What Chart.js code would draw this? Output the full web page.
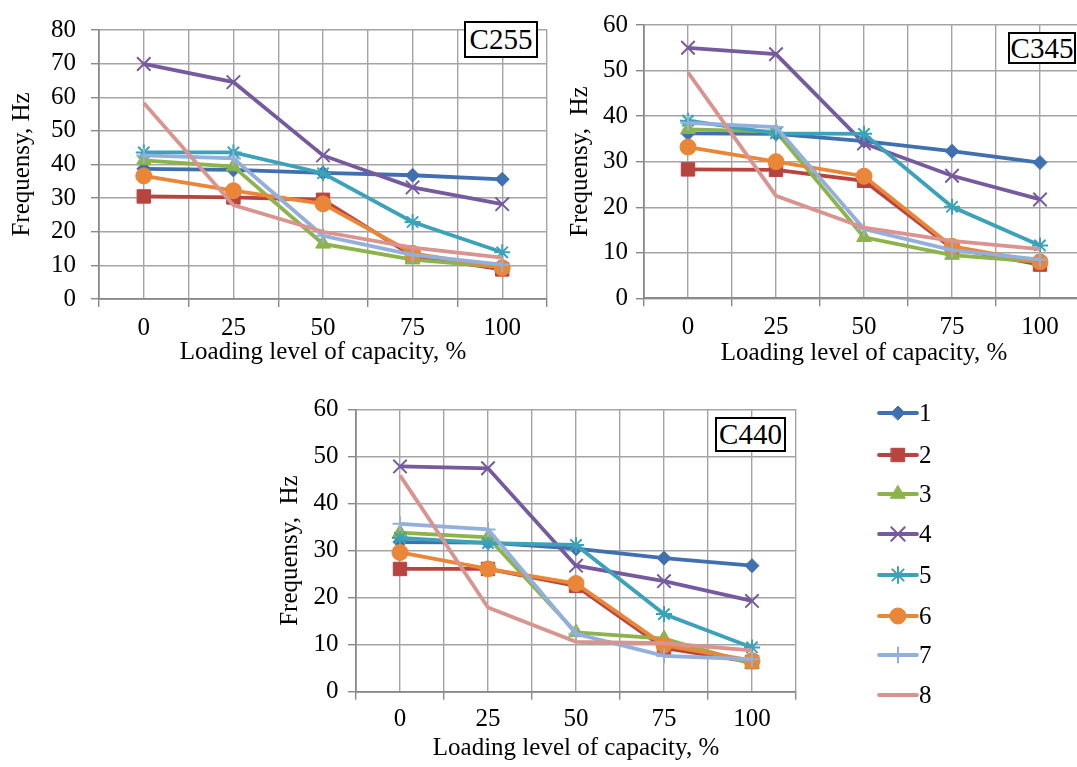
<!DOCTYPE html>
<html>
<head>
<meta charset="utf-8">
<script src="https://cdn.jsdelivr.net/npm/chart.js@4.4.1/dist/chart.umd.min.js"></script>
<style>
  html, body { margin: 0; padding: 0; background: #fff; overflow: hidden; width: 1077px; height: 767px; }
  .wrap { position: absolute; }
  .tag {
    position: absolute; background: #fff; border: 2px solid #000; box-sizing: border-box;
    font-family: 'Liberation Serif', 'Times New Roman', serif; font-size: 29px; color: #000;
    text-align: center;
  }
  #legend { position: absolute; left: 870px; top: 390px; width: 120px; height: 330px; }
  .item { position: absolute; left: 0; height: 30px; }
  .item canvas { position: absolute; left: 6px; top: 0; }
  .item span {
    position: absolute; left: 49px; top: 0; line-height: 30px;
    font-family: 'Liberation Serif', 'Times New Roman', serif; font-size: 25px; color: #000;
  }
</style>
</head>
<body>

<div class="wrap" style="left:0px;top:0px;width:560px;height:385px"><canvas id="c255"></canvas></div>
<div class="wrap" style="left:560px;top:0px;width:540px;height:385px"><canvas id="c345"></canvas></div>
<div class="wrap" style="left:260px;top:385px;width:560px;height:382px"><canvas id="c440"></canvas></div>

<div class="tag" style="left:464px;top:21px;width:74px;height:37px;line-height:33px">C255</div>
<div class="tag" style="left:1008px;top:32px;width:68px;height:32px;line-height:28px">C345</div>
<div class="tag" style="left:715px;top:417px;width:71px;height:35px;line-height:31px">C440</div>

<div id="legend"></div>

<script>
// loading level of capacity, %
const loading = [0, 25, 50, 75, 100];
const seriesNames = ['1', '2', '3', '4', '5', '6', '7', '8'];

// Frequensy, Hz  (one row per series 1..8)
const c255 = [
  [38.7, 38.4, 37.5, 36.8, 35.6],
  [30.5, 30.2, 29.5, 12.8, 8.8],
  [41.2, 39.4, 16.4, 11.7, 9.5],
  [69.9, 64.5, 42.7, 33.2, 28.2],
  [43.6, 43.6, 37.4, 22.9, 13.9],
  [36.6, 32.2, 28.3, 13.6, 9.3],
  [42.7, 41.8, 18.8, 13.1, 10.2],
  [58.3, 27.9, 20.0, 15.3, 12.3]
];

const c345 = [
  [36.2, 36.1, 34.5, 32.3, 29.8],
  [28.3, 28.2, 25.8, 11.0, 7.4],
  [37.1, 36.6, 13.4, 9.5, 8.0],
  [55.0, 53.6, 34.0, 26.9, 21.7],
  [39.0, 36.2, 36.1, 20.1, 11.6],
  [33.2, 30.0, 26.8, 11.4, 8.0],
  [38.5, 37.6, 15.2, 10.6, 8.5],
  [49.6, 22.5, 15.5, 12.6, 10.8]
];

const c440 = [
  [31.8, 31.7, 30.4, 28.4, 26.8],
  [26.1, 26.1, 22.5, 9.3, 6.3],
  [33.8, 32.8, 12.6, 11.3, 5.9],
  [47.9, 47.5, 26.8, 23.5, 19.3],
  [32.7, 31.6, 31.2, 16.5, 9.4],
  [29.6, 26.1, 23.0, 9.9, 6.6],
  [35.7, 34.5, 12.3, 7.6, 6.9],
  [46.0, 17.9, 10.6, 10.3, 8.8]
];

const colors = ['#4170b0', '#b84440', '#8db34c', '#765a9e', '#3ca2ba', '#ea8638', '#93afdb', '#d9948f'];
const markers = ['rectRot', 'rect', 'triangle', 'crossRot', 'star', 'circle', 'cross', false];
const markerSize = [7, 9.5, 8.5, 9.5, 8, 8, 7.5, 0];
const markerBorder = [1, 1, 1, 2, 2, 1, 2, 0];

const serif = "'Liberation Serif', 'Times New Roman', serif";
const gridCol = '#a4a4a4';
const axisCol = '#888888';

function makeChart(id, rows, p) {
  const canvas = document.getElementById(id);
  canvas.width = p.w;
  canvas.height = p.h;
  const font = { family: serif, size: 25 };

  const datasets = rows.map(function (vals, i) {
    return {
      label: seriesNames[i],
      data: loading.map(function (x, k) { return { x: x, y: vals[k] }; }),
      borderColor: colors[i],
      backgroundColor: colors[i],
      borderWidth: 3.8,
      pointStyle: markers[i],
      pointRadius: markerSize[i],
      pointBorderWidth: markerBorder[i],
      pointBackgroundColor: colors[i],
      pointBorderColor: colors[i],
      tension: 0,
      order: 8 - i
    };
  });

  return new Chart(canvas, {
    type: 'line',
    data: { datasets: datasets },
    options: {
      responsive: false,
      animation: false,
      events: [],
      layout: { padding: { left: 0, top: p.top, right: p.right, bottom: 0 } },
      plugins: { legend: { display: false }, tooltip: { enabled: false } },
      scales: {
        x: {
          type: 'linear',
          min: -12.5,
          max: 112.5,
          ticks: {
            stepSize: 12.5,
            autoSkip: false,
            maxRotation: 0,
            color: '#000',
            font: font,
            padding: p.xPad,
            callback: function (v) { return loading.indexOf(v) >= 0 ? String(v) : ''; }
          },
          grid: {
            color: gridCol,
            lineWidth: 1.4,
            tickLength: 8,
            tickColor: function (c) {
              return (c.tick && Math.abs(c.tick.value % 25) === 12.5) ? axisCol : 'rgba(0,0,0,0)';
            }
          },
          border: { color: axisCol, width: 1.7 },
          title: {
            display: true,
            text: 'Loading level of capacity, %',
            color: '#000',
            font: font,
            padding: { top: 0, bottom: p.xTitlePad }
          },
          afterFit: function (s) { s.height = p.xh; }
        },
        y: {
          min: 0,
          max: p.ymax,
          ticks: { stepSize: 10, color: '#000', font: font, padding: p.yPad },
          grid: { color: gridCol, lineWidth: 1.4, tickLength: 8, tickColor: axisCol },
          border: { color: axisCol, width: 1.7 },
          title: {
            display: true,
            text: p.ytitle,
            color: '#000',
            font: font,
            padding: { top: p.yTitlePad, bottom: 0 }
          },
          afterFit: function (s) { s.width = p.yw; }
        }
      }
    }
  });
}

makeChart('c255', c255, { w: 560, h: 385, top: 20.5, right: 13, xh: 86, yw: 99, ymax: 80,
  xPad: 6, xTitlePad: 18, yPad: 15, yTitlePad: 7, ytitle: 'Frequensy, Hz' });
makeChart('c345', c345, { w: 540, h: 385, top: 25, right: 16, xh: 86.7, yw: 84, ymax: 60,
  xPad: 6, xTitlePad: 16.5, yPad: 8, yTitlePad: 5, ytitle: 'Frequensy,  Hz' });
makeChart('c440', c440, { w: 560, h: 382, top: 22.7, right: 24, xh: 75.3, yw: 96, ymax: 60,
  xPad: 5, xTitlePad: 3.5, yPad: 9.5, yTitlePad: 15, ytitle: 'Frequensy,  Hz' });

// legend: line + marker per series
const legend = document.getElementById('legend');
const legendY = [413, 455, 494, 534, 575, 616, 655, 695];
seriesNames.forEach(function (name, i) {
  const item = document.createElement('div');
  item.className = 'item';
  item.style.top = (legendY[i] - 390 - 15) + 'px';
  const cv = document.createElement('canvas');
  cv.width = 44;
  cv.height = 30;
  const span = document.createElement('span');
  span.textContent = name;
  item.appendChild(cv);
  item.appendChild(span);
  legend.appendChild(item);

  const ctx = cv.getContext('2d');
  ctx.strokeStyle = colors[i];
  ctx.lineWidth = 3.8;
  ctx.lineCap = 'round';
  ctx.beginPath();
  ctx.moveTo(3, 15);
  ctx.lineTo(41, 15);
  ctx.stroke();
  if (markers[i] && Chart.helpers && Chart.helpers.drawPoint) {
    ctx.fillStyle = colors[i];
    ctx.strokeStyle = colors[i];
    ctx.lineWidth = markerBorder[i];
    Chart.helpers.drawPoint(ctx, {
      pointStyle: markers[i], radius: markerSize[i], rotation: 0, borderWidth: markerBorder[i]
    }, 22, 15);
  }
});
</script>
</body>
</html>
